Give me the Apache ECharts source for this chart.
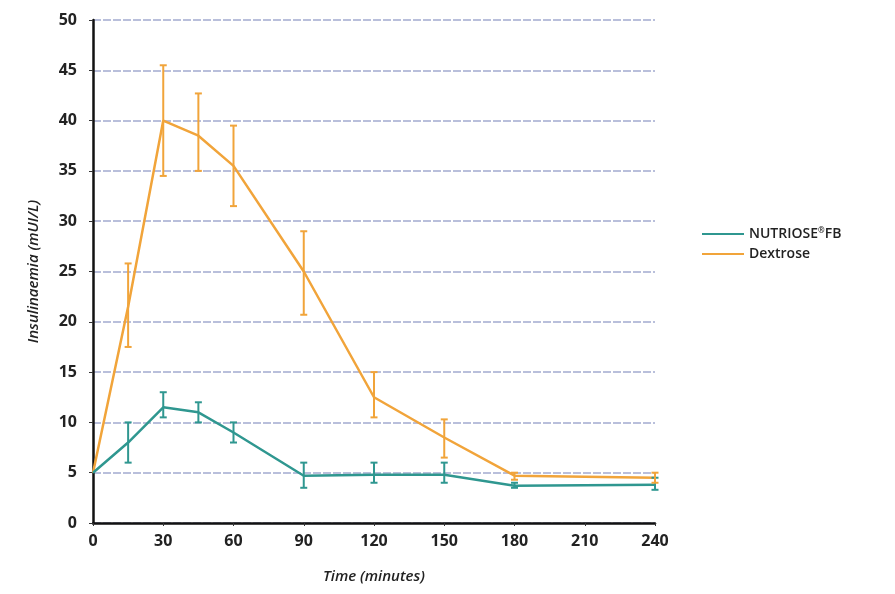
<!DOCTYPE html>
<html><head><meta charset="utf-8">
<script src="https://cdn.jsdelivr.net/npm/echarts@6/dist/echarts.min.js"></script>
<style>html,body{margin:0;padding:0;background:#fff}#c{width:895px;height:594px}</style>
</head><body><div id="c"></div>
<script>
const times = [0, 15, 30, 45, 60, 90, 120, 150, 180, 240];
const xTicks = [0, 30, 60, 90, 120, 150, 180, 210, 240];
const yTicks = [0, 5, 10, 15, 20, 25, 30, 35, 40, 45, 50];
const nutrioseMean = [5, 8, 11.5, 11, 9, 4.7, 4.8, 4.8, 3.7, 3.8];
const nutrioseLow  = [5, 6, 10.5, 10, 8, 3.5, 4, 4, 3.5, 3.3];
const nutrioseHigh = [5, 10, 13, 12, 10, 6, 6, 6, 4, 4.5];
const dextroseMean = [5, 21.5, 40, 38.5, 35.5, 25, 12.5, 8.5, 4.7, 4.5];
const dextroseLow  = [5, 17.5, 34.5, 35, 31.5, 20.7, 10.5, 6.5, 4.3, 4];
const dextroseHigh = [5, 25.8, 45.5, 42.7, 39.5, 29, 15, 10.3, 5, 5];

const teal = '#2f9790';
const orange = '#f1a43a';
const NUT = 'NUTRIOSE\u00AEFB';

function pairs(mean){ return times.map((t,i)=>[t, mean[i]]); }
function errData(low, high){ return times.map((t,i)=>[t, low[i], high[i]]); }
function errSeries(low, high, color){
  return {
    type:'custom', silent:true, z:5,
    data: errData(low, high),
    renderItem: function(params, api){
      const x = api.value(0);
      const lo = api.coord([x, api.value(1)]);
      const hi = api.coord([x, api.value(2)]);
      if (Math.abs(lo[1]-hi[1]) < 1) return null;
      const w = 3.5;
      const st = {stroke: color, lineWidth: 2};
      return {type:'group', children:[
        {type:'line', shape:{x1:lo[0],y1:lo[1],x2:hi[0],y2:hi[1]}, style:st},
        {type:'line', shape:{x1:lo[0]-w,y1:lo[1],x2:lo[0]+w,y2:lo[1]}, style:st},
        {type:'line', shape:{x1:hi[0]-w,y1:hi[1],x2:hi[0]+w,y2:hi[1]}, style:st}
      ]};
    }
  };
}

const chart = echarts.init(document.getElementById('c'));
chart.setOption({
  animation:false,
  backgroundColor:'#fff',
  textStyle:{fontFamily:'Open Sans'},
  grid:{left:93, right:240, top:20, bottom:71, containLabel:false},
  legend:{
    orient:'vertical', left:697, top:222, itemGap:6,
    itemWidth:42, itemHeight:2, icon:'rect',
    formatter: function(name){
      if (name === NUT) return 'NUTRIOSE{sup|\u00AE}FB';
      return name;
    },
    textStyle:{fontSize:14, color:'#222', fontFamily:'Open Sans', fontWeight:600,
      rich:{sup:{fontSize:8, verticalAlign:'top', padding:[0,0,6,0], color:'#222', fontFamily:'Open Sans'}}},
    data:[NUT,'Dextrose']
  },
  xAxis:{
    type:'value', min:0, max:240, interval:30,
    name:'Time (minutes)', nameLocation:'middle', nameGap:46,
    nameTextStyle:{fontSize:15, fontStyle:'italic', color:'#222', fontWeight:600},
    axisLine:{lineStyle:{color:'#111', width:2.5}},
    axisTick:{show:true, length:3, lineStyle:{color:'#333'}},
    axisLabel:{fontSize:16, color:'#222', fontWeight:700, margin:10,
      formatter: v => xTicks.includes(v) ? String(v) : ''},
    splitLine:{show:false}
  },
  yAxis:{
    type:'value', min:0, max:50, interval:5,
    name:'Insulinaemia (mUI/L)', nameLocation:'middle', nameGap:52,
    nameTextStyle:{fontSize:15, fontStyle:'italic', color:'#222', fontWeight:600},
    axisLine:{show:true, lineStyle:{color:'#111', width:2.5}},
    axisTick:{show:true, length:4, lineStyle:{color:'#333'}},
    axisLabel:{fontSize:16, color:'#222', fontWeight:700, margin:16,
      formatter: v => yTicks.includes(v) ? String(v) : ''},
    splitLine:{show:true, lineStyle:{color:'#a3abd0', width:1.5, type:[8,2]}}
  },
  series:[
    {name:NUT, type:'line', data:pairs(nutrioseMean), color:teal,
     lineStyle:{width:2.5, color:teal}, showSymbol:false, symbol:'none', z:4},
    {name:'Dextrose', type:'line', data:pairs(dextroseMean), color:orange,
     lineStyle:{width:2.5, color:orange}, showSymbol:false, symbol:'none', z:3},
    errSeries(nutrioseLow, nutrioseHigh, teal),
    errSeries(dextroseLow, dextroseHigh, orange)
  ]
});
</script></body></html>
